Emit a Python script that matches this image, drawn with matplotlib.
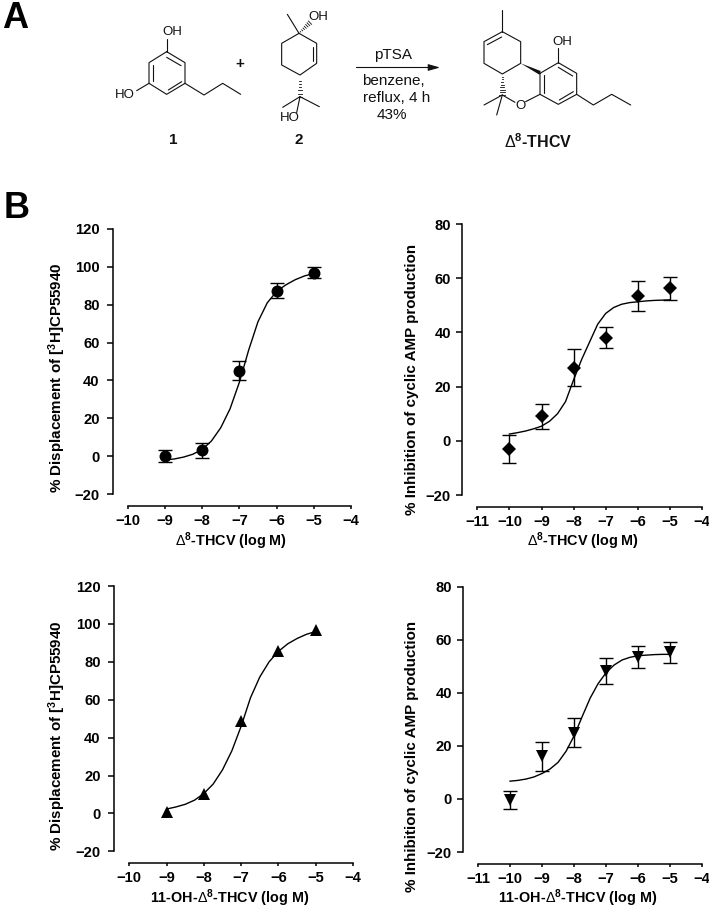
import matplotlib
matplotlib.use('Agg')
import matplotlib.pyplot as plt
from matplotlib.patches import Polygon

plt.rcParams['font.family'] = ['Liberation Sans', 'DejaVu Sans']
plt.rcParams['mathtext.fontset'] = 'custom'
plt.rcParams['mathtext.rm'] = 'Liberation Sans'
plt.rcParams['mathtext.default'] = 'regular'

W, H = 709, 909

# measured points, log M
dose_a = [-9, -8, -7, -6, -5]
dose_b = [-10, -9, -8, -7, -6, -5]

disp_thcv = [0, 3, 45, 87.5, 97]
disp_thcv_err = [3, 4, 5, 4, 3]
inhib_thcv = [-3, 9, 27, 38, 53.4, 56.2]
inhib_thcv_err = [5.2, 4.6, 6.7, 3.9, 5.4, 4.3]
disp_oh = [0.5, 10, 48.5, 85.8, 97]
inhib_oh = [-0.5, 16, 25, 48.2, 53.5, 55.3]
inhib_oh_err = [3.4, 5.6, 5.6, 4.8, 4.3, 4]

# fitted curves
curve_x_a = [-9, -8.75, -8.5, -8.25, -8, -7.75, -7.5, -7.25, -7, -6.75, -6.5, -6.25, -6,
             -5.75, -5.5, -5.25, -5]
curve_x_b = [-10, -9.75, -9.5, -9.25] + curve_x_a
curve_disp_thcv = [-2, -1.5, -0.5, 1, 3.5, 8, 15, 25, 39, 56, 71, 81, 87, 90.5, 93.2, 95.2, 96.5]
curve_inhib_thcv = [2.5, 3, 3.6, 4.4, 5.4, 7.2, 10, 14.5, 22.5, 30, 36.5, 43, 47, 49.2, 50.4,
                    51, 51.3, 51.6, 51.8, 51.9, 52]
curve_disp_oh = [2.3, 3.4, 4.8, 7, 10.5, 15.5, 23, 33, 46, 61, 72, 80, 85.5, 89.5, 92.3, 94.5, 96]
curve_inhib_oh = [6.7, 7, 7.5, 8.3, 9.6, 11.3, 13.8, 18, 23.8, 31, 38, 43.5, 47.6, 50.5, 52.4,
                  53.4, 54, 54.2, 54.4, 54.5, 54.5]

yticks_disp = [-20, 0, 20, 40, 60, 80, 100, 120]
yticks_inhib = [-20, 0, 20, 40, 60, 80]
xticks_a = [-10, -9, -8, -7, -6, -5, -4]
xticks_b = [-11, -10, -9, -8, -7, -6, -5, -4]

ylabel_disp = '% Displacement of [$^{3}$H]CP55940'
ylabel_inhib = '% Inhibition of cyclic AMP production'
xlabel_thcv = r'$\mathrm{\Delta}^{8}$-THCV (log M)'
xlabel_oh = r'11-OH-$\mathrm{\Delta}^{8}$-THCV (log M)'

fig = plt.figure(figsize=(W / 100, H / 100), dpi=100)

# pixel canvas for the scheme and the label positions
bg = fig.add_axes([0, 0, 1, 1])
bg.set_xlim(0, W)
bg.set_ylim(H, 0)
bg.axis('off')


def panel(x0, x1, ytop, ybot, spine_x, axis_y, xticks, yticks, xlabel, ylabel, xl_pos, yl_pos, ypad):
    ax = fig.add_axes([x0 / W, 1 - ybot / H, (x1 - x0) / W, (ybot - ytop) / H])
    ax.patch.set_visible(False)
    ax.set_xlim(xticks[0], xticks[-1])
    ax.set_ylim(yticks[0], yticks[-1])
    ax.set_xticks(xticks)
    ax.set_yticks(yticks)
    for s in ['top', 'right']:
        ax.spines[s].set_visible(False)
    ax.spines['left'].set_position(('outward', (x0 - spine_x) * 0.72))
    ax.spines['bottom'].set_position(('outward', (axis_y - ybot) * 0.72))
    ax.spines['left'].set_linewidth(1.1)
    ax.spines['bottom'].set_linewidth(1.1)
    ax.tick_params(axis='y', length=4.3, width=1.1, pad=ypad, labelsize=10.6)
    ax.tick_params(axis='x', length=2.2, width=1.1, pad=3.5, labelsize=10.6)
    for t in ax.get_xticklabels() + ax.get_yticklabels():
        t.set_fontweight('bold')
    ax.set_xlabel(xlabel, fontsize=10.4, fontweight='bold', va='center')
    ax.set_ylabel(ylabel, fontsize=10.9, fontweight='bold', va='center')
    ax.xaxis.set_label_coords(xl_pos[0], xl_pos[1], transform=bg.transData)
    ax.yaxis.set_label_coords(yl_pos[0], yl_pos[1], transform=bg.transData)
    return ax


def series(ax, x, y, err, cx, cy, marker, ms):
    ax.plot(cx, cy, color='k', lw=1.0, zorder=2, clip_on=False)
    if err is not None:
        ax.errorbar(x, y, yerr=err, fmt='none', ecolor='k', elinewidth=1.0,
                    capsize=4.8, capthick=1.0, zorder=3, clip_on=False)
    ax.plot(x, y, marker, color='k', ms=ms, mew=0, zorder=4, clip_on=False)


ax1 = panel(127.7, 351, 229, 494, 113.3, 506, xticks_a, yticks_disp, xlabel_thcv, ylabel_disp,
            (231, 541.5), (57, 378), 5.5)
series(ax1, dose_a, disp_thcv, disp_thcv_err, curve_x_a, curve_disp_thcv, 'o', 8.6)

ax2 = panel(477.3, 702, 224, 495, 462.3, 506.7, xticks_b, yticks_inhib, xlabel_thcv, ylabel_inhib,
            (582.7, 541.5), (411.7, 379), 4)
series(ax2, dose_b, inhib_thcv, inhib_thcv_err, curve_x_b, curve_inhib_thcv, 'D', 7)

ax3 = panel(129.3, 353, 586, 851.3, 114.3, 862.7, xticks_a, yticks_disp, xlabel_oh, ylabel_disp,
            (230, 898), (57.5, 736), 5.5)
series(ax3, dose_a, disp_oh, None, curve_x_a, curve_disp_oh, '^', 8.6)

ax4 = panel(478, 702.3, 586.7, 852, 463.3, 863.7, xticks_b, yticks_inhib, xlabel_oh, ylabel_inhib,
            (578, 898), (411.7, 756), 4)
series(ax4, dose_b, inhib_oh, inhib_oh_err, curve_x_b, curve_inhib_oh, 'v', 8.6)

# ---- scheme, coordinates taken from 3x crops ----
ox_left, ox_right = 0, 350

resorcinol = [
    [(500, 155), (555, 188), (555, 250), (500, 283), (447, 250), (447, 188), (500, 155)],
    [(500, 172), (543, 197)], [(458, 195), (458, 243)], [(505, 270), (545, 245)],
    [(500, 155), (500, 118)], [(447, 250), (410, 272)],
    [(555, 250), (612, 285), (668, 250), (722, 283)],
]
terpene = [
    [(897, 100), (950, 130), (950, 190), (900, 225), (845, 195), (845, 130), (897, 100)],
    [(938, 140), (938, 184)], [(897, 100), (862, 43)],
    [(900, 290), (848, 322)], [(900, 290), (958, 320)], [(900, 290), (890, 338)],
]
thcv = [
    [(457, 30), (457, 95)],
    [(457, 95), (512, 125), (512, 190), (457, 222), (402, 190), (402, 125), (457, 95)],
    [(455, 111), (412, 134)],
    [(457, 285), (402, 315)], [(457, 285), (440, 345)], [(457, 285), (495, 307)],
    [(527, 305), (570, 283)],
    [(570, 220), (625, 188), (680, 220), (680, 283), (625, 313), (570, 283), (570, 220)],
    [(581, 226), (581, 278)], [(625, 202), (668, 228)], [(628, 300), (670, 275)],
    [(625, 188), (625, 145)],
    [(680, 283), (730, 315), (785, 283), (842, 315)],
]


def bonds(segs, ox):
    for seg in segs:
        bg.plot([ox + p[0] / 3 for p in seg], [p[1] / 3 for p in seg], color='#111111', lw=0.8,
                solid_capstyle='round')


def hashed(p0, p1, ox, n=7, maxw=7):
    # stereo bond, dashes widen away from p0
    for i in range(1, n + 1):
        f = i / n
        cx = p0[0] + (p1[0] - p0[0]) * f
        cy = p0[1] + (p1[1] - p0[1]) * f
        dx, dy = p1[1] - p0[1], p0[0] - p1[0]
        d = (dx ** 2 + dy ** 2) ** 0.5
        w = maxw * f
        bg.plot([ox + (cx - dx / d * w) / 3, ox + (cx + dx / d * w) / 3],
                [(cy - dy / d * w) / 3, (cy + dy / d * w) / 3], color='#111111', lw=0.6)


def chem(x, y, s, size=9.5, weight='normal'):
    bg.text(x, y, s, fontsize=size, fontweight=weight, ha='center', va='center', color='#111111')


bonds(resorcinol, ox_left)
bonds(terpene, ox_left)
bonds(thcv, ox_right)
hashed((897, 100), (930, 68), ox_left)
hashed((900, 225), (900, 290), ox_left)
hashed((457, 222), (457, 285), ox_right, n=8, maxw=9)
bg.add_patch(Polygon([(350 + 512 / 3, 190 / 3), (350 + 572 / 3, 213 / 3), (350 + 568 / 3, 224 / 3)],
                     closed=True, color='#111111', lw=0))

chem(172.5, 32, 'OH')
chem(125, 95, 'HO')
chem(318.5, 17.5, 'OH')
chem(290, 118, 'HO')
chem(562.5, 42, 'OH')
chem(520, 106, 'O')
chem(240, 64, '+', size=11, weight='bold')
chem(173.5, 140, '1', size=11, weight='bold')
chem(299, 140, '2', size=11, weight='bold')

bg.annotate('', xy=(440, 67.5), xytext=(356.5, 67.5),
            arrowprops=dict(arrowstyle='-|>,head_length=0.7,head_width=0.2', color='#111111',
                            lw=0.8, shrinkA=0, shrinkB=0))
chem(393, 55, 'pTSA', size=11)
chem(393.5, 81, 'benzene,', size=11)
chem(396.5, 98, 'reflux, 4 h', size=11)
chem(392, 115, '43%', size=11)
bg.text(538.5, 141.5, r'$\mathrm{\Delta}^{8}$-THCV', fontsize=11.5, fontweight='bold', ha='center',
        va='center', color='#111111')

bg.text(2, 18, 'A', fontsize=26, fontweight='bold', ha='left', va='center')
bg.text(4, 209, 'B', fontsize=26, fontweight='bold', ha='left', va='center')

fig.savefig('out.png', dpi=100)
